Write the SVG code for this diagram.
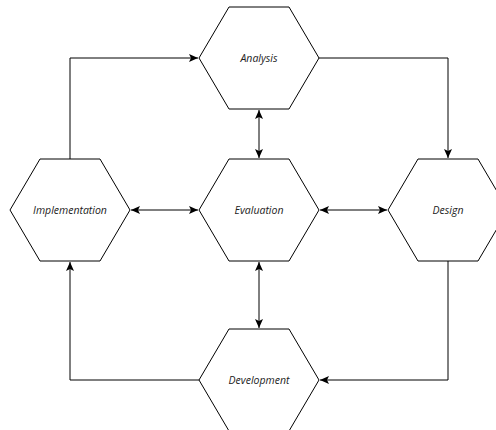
<svg xmlns="http://www.w3.org/2000/svg" width="496" height="430" viewBox="0 0 496 430">
<defs>
<style>
.hex{fill:#ffffff;stroke:#000000;stroke-width:1}
.lbl{font-family:"Open Sans","Liberation Sans",sans-serif;font-style:italic;font-size:10.5px;fill:#222222;text-anchor:middle;dominant-baseline:central}
.edge{fill:none;stroke:#000000;stroke-width:1}
</style>
<marker id="arr" viewBox="0 0 10 8" refX="9" refY="4" markerWidth="10" markerHeight="8" markerUnits="userSpaceOnUse" orient="auto-start-reverse">
<path d="M0,0 L9,4 L0,8 L2,4 z" fill="#000000"/>
</marker>
</defs>
<rect width="496" height="430" fill="#ffffff"/>
<g id="connectors">
<path class="edge" d="M70,159 V58 H198" marker-end="url(#arr)"/>
<path class="edge" d="M319,58 H448 V158" marker-end="url(#arr)"/>
<path class="edge" d="M448,261 V380 H320" marker-end="url(#arr)"/>
<path class="edge" d="M199,380 H70 V262" marker-end="url(#arr)"/>
<path class="edge" d="M259,110 V158" marker-start="url(#arr)" marker-end="url(#arr)"/>
<path class="edge" d="M259,262 V328" marker-start="url(#arr)" marker-end="url(#arr)"/>
<path class="edge" d="M131,210 H198" marker-start="url(#arr)" marker-end="url(#arr)"/>
<path class="edge" d="M320,210 H387" marker-start="url(#arr)" marker-end="url(#arr)"/>
</g>
<g id="analysis">
<polygon class="hex" points="199,58 229,7 289,7 319,58 289,109 229,109"/>
<text class="lbl" x="259" y="58">Analysis</text>
</g>
<g id="implementation">
<polygon class="hex" points="10,210 40,159 100,159 130,210 100,261 40,261"/>
<text class="lbl" x="70" y="210">Implementation</text>
</g>
<g id="evaluation">
<polygon class="hex" points="199,210 229,159 289,159 319,210 289,261 229,261"/>
<text class="lbl" x="259" y="210">Evaluation</text>
</g>
<g id="design">
<polygon class="hex" points="388,210 418,159 478,159 508,210 478,261 418,261"/>
<text class="lbl" x="448" y="210">Design</text>
</g>
<g id="development">
<polygon class="hex" points="199,380 229,329 289,329 319,380 289,431 229,431"/>
<text class="lbl" x="259" y="380">Development</text>
</g>
</svg>
